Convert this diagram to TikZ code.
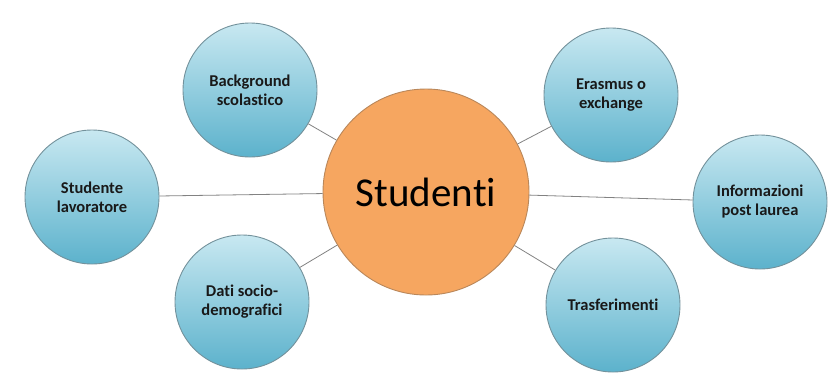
\documentclass[tikz,border=0pt]{standalone}
\usepackage{fontspec}
\setmainfont[Ligatures={NoCommon}]{Carlito}
\definecolor{bluetop}{RGB}{200,232,241}
\definecolor{bluebot}{RGB}{92,178,204}
\definecolor{blueedge}{RGB}{115,145,155}
\definecolor{orfill}{RGB}{246,166,96}
\definecolor{oredge}{RGB}{185,135,90}
\definecolor{linkgray}{RGB}{130,130,130}
\begin{document}
\begin{tikzpicture}[x=1pt,y=-1pt,
  sat/.style={circle,draw=blueedge,line width=0.9pt,top color=bluetop,bottom color=bluebot,
    minimum size=134pt,inner sep=0pt,align=center,font=\fontsize{16.5}{19}\selectfont\bfseries,text=black!90},
  hub/.style={circle,draw=oredge,line width=0.9pt,fill=orfill,minimum size=206pt,inner sep=0pt,
    font=\fontsize{41}{46}\selectfont},
  link/.style={draw=linkgray,line width=0.8pt}]
\useasboundingbox (0,0) rectangle (829,373);
\node[hub] (c) at (426,192) {Studenti};
\node[sat] (bg) at (250,90) {Background\\scolastico};
\node[sat] (sl) at (92,197) {Studente\\lavoratore};
\node[sat] (ds) at (242,302) {Dati socio-\\demografici};
\node[sat] (er) at (611,95) {Erasmus o\\exchange};
\node[sat] (ip) at (760,202) {Informazioni\\post laurea};
\node[sat] (tr) at (613,305) {Trasferimenti};
\foreach \n in {bg,sl,ds,er,ip,tr} \draw[link] (c) -- (\n);
\end{tikzpicture}
\end{document}
